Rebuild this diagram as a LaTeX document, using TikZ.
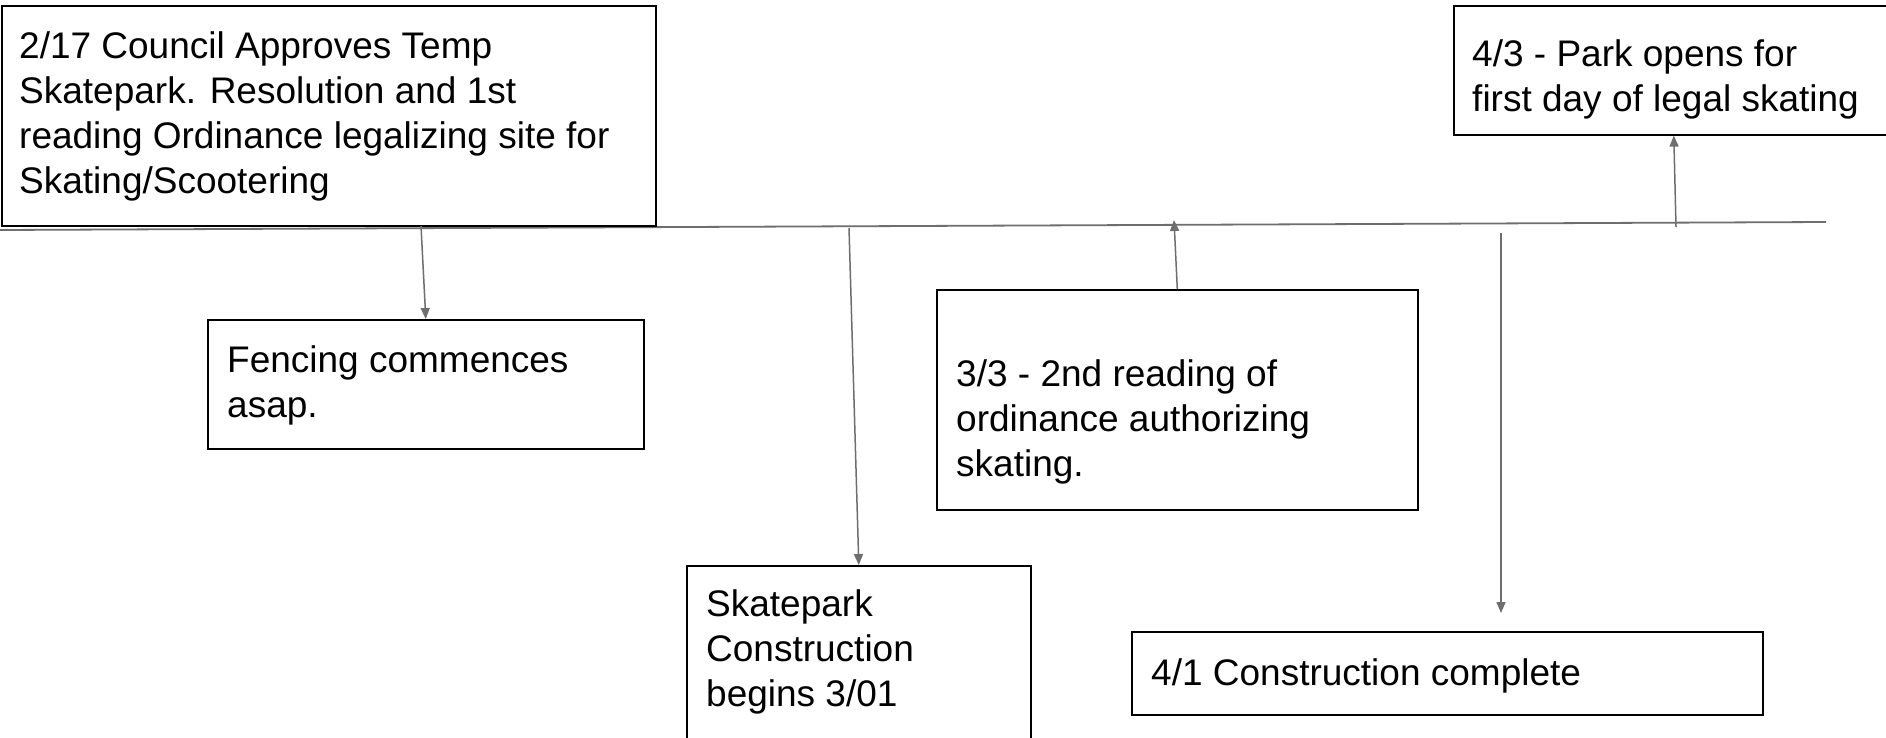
\documentclass[tikz,border=0pt]{standalone}
\usepackage{fontspec}
\setmainfont{Liberation Sans}
\usetikzlibrary{arrows.meta}
\definecolor{linegray}{RGB}{110,110,110}
\begin{document}
\begin{tikzpicture}[x=1pt,y=-1pt,
  box/.style={draw=black, line width=1.6pt, fill=white, inner sep=0pt, anchor=north west},
  txt/.style={anchor=north west, inner sep=0pt, align=left, font=\fontsize{37}{45}\selectfont},
  axis/.style={draw=linegray, line width=1.8pt},
  conn/.style={draw=linegray, line width=1.5pt, -{Triangle[length=11pt,width=9pt]}}]
\clip (0,0) rectangle (1886,738);
\fill[white] (0,0) rectangle (1886,738);
% timeline
\coordinate (tl0) at (0,230);
\coordinate (tl1) at (1826,222);
\draw[axis] (tl0) -- (tl1);
% boxes
\node[box, minimum width=654pt, minimum height=220pt] (b1) at (1,5) {};
\node[box, minimum width=436pt, minimum height=129pt] (fence) at (207,319) {};
\node[box, minimum width=344pt, minimum height=200pt] (sk) at (686,565) {};
\node[box, minimum width=481pt, minimum height=220pt] (b33) at (936,289) {};
\node[box, minimum width=631pt, minimum height=83pt] (b41) at (1131,631) {};
\node[box, minimum width=440pt, minimum height=129pt] (b43) at (1453,5) {};
% texts
\node[txt] (t1) at (19,26.5) {\strut 2/17 Council Approves Temp\\\strut Skatepark. Resolution and 1st\\\strut reading Ordinance legalizing site for\\\strut Skating/Scootering};
\node[txt] (tfence) at (227,340.5) {\strut Fencing commences\\\strut asap.};
\node[txt] (tsk) at (706,584.5) {\strut Skatepark\\\strut Construction\\\strut begins 3/01};
\node[txt] (t33) at (956,354.5) {\strut 3/3 - 2nd reading of\\\strut ordinance authorizing\\\strut skating.};
\node[txt] (t41) at (1151,653.5) {\strut 4/1 Construction complete};
\node[txt] (t43) at (1472,34.5) {\strut 4/3 - Park opens for\\\strut first day of legal skating};
% connectors
\coordinate (s1) at (421,226);
\coordinate (s2) at (849,228);
\coordinate (e3) at (1174,220);
\coordinate (s4) at (1501,233);
\coordinate (e4) at (1501,613);
\coordinate (s5) at (1676,227);
\draw[conn] (s1) -- (fence.north);
\draw[conn] (s2) -- (sk.north);
\draw[conn] (b33.north) -- (e3);
\draw[conn] (s4) -- (e4);
\draw[conn] (s5) -- (b43.south);
\end{tikzpicture}
\end{document}
